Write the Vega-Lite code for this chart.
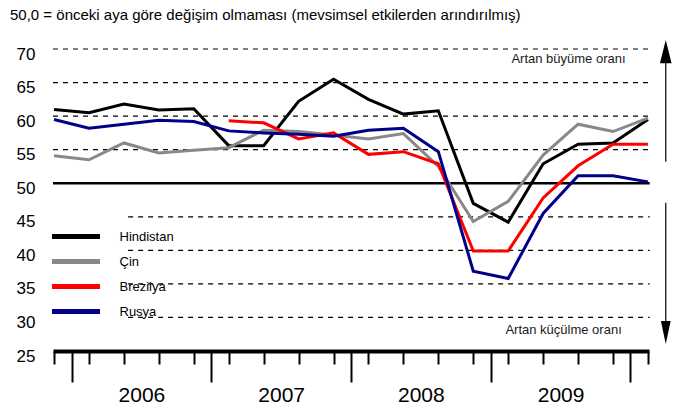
{
  "$schema": "https://vega.github.io/schema/vega-lite/v6.json",
  "width": 596,
  "height": 302,
  "autosize": {"type": "none"},
  "padding": {"left": 53, "top": 49, "right": 35, "bottom": 54},
  "background": "white",
  "config": {"view": {"stroke": null}, "font": "Liberation Sans"},
  "title": {
    "text": "50,0 = önceki aya göre değişim olmaması (mevsimsel etkilerden arındırılmış)",
    "anchor": "start",
    "frame": "group",
    "dx": -43,
    "offset": 17,
    "font": "Liberation Sans",
    "fontSize": 15,
    "fontWeight": "normal",
    "color": "black"
  },
  "datasets": {
    "series": [
      {"t": 0, "series": "Hindistan", "value": 61.0},
      {"t": 1, "series": "Hindistan", "value": 60.5},
      {"t": 2, "series": "Hindistan", "value": 61.8},
      {"t": 3, "series": "Hindistan", "value": 60.9},
      {"t": 4, "series": "Hindistan", "value": 61.1},
      {"t": 5, "series": "Hindistan", "value": 55.6},
      {"t": 6, "series": "Hindistan", "value": 55.6},
      {"t": 7, "series": "Hindistan", "value": 62.2},
      {"t": 8, "series": "Hindistan", "value": 65.5},
      {"t": 9, "series": "Hindistan", "value": 62.5},
      {"t": 10, "series": "Hindistan", "value": 60.3},
      {"t": 11, "series": "Hindistan", "value": 60.8},
      {"t": 12, "series": "Hindistan", "value": 47.0},
      {"t": 13, "series": "Hindistan", "value": 44.2},
      {"t": 14, "series": "Hindistan", "value": 52.9},
      {"t": 15, "series": "Hindistan", "value": 55.8},
      {"t": 16, "series": "Hindistan", "value": 56.0},
      {"t": 17, "series": "Hindistan", "value": 59.5},
      {"t": 0, "series": "Çin", "value": 54.1},
      {"t": 1, "series": "Çin", "value": 53.5},
      {"t": 2, "series": "Çin", "value": 56.0},
      {"t": 3, "series": "Çin", "value": 54.5},
      {"t": 4, "series": "Çin", "value": 54.9},
      {"t": 5, "series": "Çin", "value": 55.3},
      {"t": 6, "series": "Çin", "value": 57.9},
      {"t": 7, "series": "Çin", "value": 57.7},
      {"t": 8, "series": "Çin", "value": 57.2},
      {"t": 9, "series": "Çin", "value": 56.6},
      {"t": 10, "series": "Çin", "value": 57.4},
      {"t": 11, "series": "Çin", "value": 52.5},
      {"t": 12, "series": "Çin", "value": 44.3},
      {"t": 13, "series": "Çin", "value": 47.3},
      {"t": 14, "series": "Çin", "value": 54.2},
      {"t": 15, "series": "Çin", "value": 58.8},
      {"t": 16, "series": "Çin", "value": 57.7},
      {"t": 17, "series": "Çin", "value": 59.7},
      {"t": 5, "series": "Brezilya", "value": 59.3},
      {"t": 6, "series": "Brezilya", "value": 59.0},
      {"t": 7, "series": "Brezilya", "value": 56.6},
      {"t": 8, "series": "Brezilya", "value": 57.5},
      {"t": 9, "series": "Brezilya", "value": 54.3},
      {"t": 10, "series": "Brezilya", "value": 54.7},
      {"t": 11, "series": "Brezilya", "value": 52.9},
      {"t": 12, "series": "Brezilya", "value": 39.9},
      {"t": 13, "series": "Brezilya", "value": 39.9},
      {"t": 14, "series": "Brezilya", "value": 47.8},
      {"t": 15, "series": "Brezilya", "value": 52.6},
      {"t": 16, "series": "Brezilya", "value": 55.8},
      {"t": 17, "series": "Brezilya", "value": 55.8},
      {"t": 0, "series": "Rusya", "value": 59.5},
      {"t": 1, "series": "Rusya", "value": 58.2},
      {"t": 2, "series": "Rusya", "value": 58.8},
      {"t": 3, "series": "Rusya", "value": 59.4},
      {"t": 4, "series": "Rusya", "value": 59.2},
      {"t": 5, "series": "Rusya", "value": 57.8},
      {"t": 6, "series": "Rusya", "value": 57.5},
      {"t": 7, "series": "Rusya", "value": 57.3},
      {"t": 8, "series": "Rusya", "value": 57.0},
      {"t": 9, "series": "Rusya", "value": 57.9},
      {"t": 10, "series": "Rusya", "value": 58.2},
      {"t": 11, "series": "Rusya", "value": 54.7},
      {"t": 12, "series": "Rusya", "value": 36.9},
      {"t": 13, "series": "Rusya", "value": 35.8},
      {"t": 14, "series": "Rusya", "value": 45.5},
      {"t": 15, "series": "Rusya", "value": 51.1},
      {"t": 16, "series": "Rusya", "value": 51.1},
      {"t": 17, "series": "Rusya", "value": 50.2}
    ],
    "grid": [
      {"v": 70, "from": -0.03, "to": 17.05},
      {"v": 65, "from": -0.03, "to": 17.05},
      {"v": 60, "from": -0.03, "to": 17.05},
      {"v": 55, "from": -0.03, "to": 17.05},
      {"v": 45, "from": 2.12, "to": 17.05},
      {"v": 40, "from": 2.12, "to": 17.05},
      {"v": 35, "from": 2.12, "to": 17.05},
      {"v": 30, "from": 2.12, "to": 17.05}
    ],
    "base": [{"v": 50, "from": -0.03, "to": 17.05}],
    "notes": [
      {"t": 16.36, "v": 68.5, "label": "Artan büyüme oranı"},
      {"t": 16.25, "v": 28.1, "label": "Artan küçülme oranı"}
    ],
    "arrows": [
      {"t": 17.51, "from": 53.2, "to": 69.5},
      {"t": 17.51, "from": 47.1, "to": 28.0}
    ],
    "heads": [
      {"t": 17.51, "v": 69.6, "dir": "up"},
      {"t": 17.51, "v": 27.76, "dir": "down"}
    ]
  },
  "layer": [
    {
      "data": {"name": "grid"},
      "mark": {"type": "rule", "color": "black", "strokeWidth": 1.2, "strokeDash": [5, 5]},
      "encoding": {
        "x": {"field": "from", "type": "quantitative", "scale": {"domain": [-0.03, 17.03], "nice": false, "zero": false}},
        "x2": {"field": "to"},
        "y": {"field": "v", "type": "quantitative", "scale": {"domain": [25, 70], "nice": false, "zero": false}}
      }
    },
    {
      "data": {"name": "base"},
      "mark": {"type": "rule", "color": "black", "strokeWidth": 2.5},
      "encoding": {
        "x": {"field": "from", "type": "quantitative", "scale": {"domain": [-0.03, 17.03], "nice": false, "zero": false}},
        "x2": {"field": "to"},
        "y": {"field": "v", "type": "quantitative", "scale": {"domain": [25, 70], "nice": false, "zero": false}}
      }
    },
    {
      "data": {"name": "series"},
      "mark": {"type": "line", "strokeWidth": 3, "strokeJoin": "miter"},
      "encoding": {
        "x": {
          "field": "t", "type": "quantitative",
          "scale": {"domain": [-0.03, 17.03], "nice": false, "zero": false},
          "axis": {
            "values": [0, 0.5, 1, 2, 2.5, 3, 4, 4.5, 5, 6, 6.5, 7, 8, 8.5, 9, 10, 10.5, 11, 12, 12.5, 13, 14, 14.5, 15, 16, 16.5, 17],
            "tickCount": 60,
            "title": null, "grid": false,
            "domain": true, "domainColor": "black", "domainWidth": 4,
            "ticks": true, "tickColor": "black", "tickWidth": 2,
            "tickSize": {"condition": {"test": "datum.value % 1 != 0", "value": 31}, "value": 13},
            "tickOpacity": {"condition": {"test": "datum.value % 4 == 2.5", "value": 0}, "value": 1},
            "labelExpr": "datum.value == 2.5 ? '2006' : datum.value == 6.5 ? '2007' : datum.value == 10.5 ? '2008' : datum.value == 14.5 ? '2009' : ''",
            "labelFont": "Liberation Sans", "labelFontSize": 21, "labelColor": "black",
            "labelPadding": 2, "labelOverlap": false, "labelFlush": false, "labelBound": false
          }
        },
        "y": {
          "field": "value", "type": "quantitative",
          "scale": {"domain": [25, 70], "nice": false, "zero": false},
          "axis": {
            "values": [25, 30, 35, 40, 45, 50, 55, 60, 65, 70],
            "tickCount": 20,
            "title": null, "grid": false, "domain": false, "ticks": false,
            "labelFont": "Liberation Sans", "labelFontSize": 17, "labelColor": "black",
            "labelPadding": 18, "labelOffset": 5, "labelOverlap": false, "labelFlush": false, "labelBound": false
          }
        },
        "color": {
          "field": "series", "type": "nominal",
          "scale": {"domain": ["Hindistan", "Çin", "Brezilya", "Rusya"], "range": ["#000000", "#888888", "#ff0000", "#000088"]},
          "legend": {
            "orient": "none", "legendX": 14.5, "legendY": 179, "title": null, "padding": 0,
            "symbolType": "M-4,0H4", "symbolSize": 144, "symbolStrokeWidth": 5,
            "labelFont": "Liberation Sans", "labelFontSize": 13, "labelColor": "black",
            "labelOffset": 35, "rowPadding": 4
          }
        }
      }
    },
    {
      "data": {"name": "notes"},
      "mark": {"type": "text", "align": "right", "baseline": "middle", "font": "Liberation Sans", "fontSize": 13, "color": "#1a1a1a"},
      "encoding": {
        "x": {"field": "t", "type": "quantitative", "scale": {"domain": [-0.03, 17.03], "nice": false, "zero": false}},
        "y": {"field": "v", "type": "quantitative", "scale": {"domain": [25, 70], "nice": false, "zero": false}},
        "text": {"field": "label"}
      }
    },
    {
      "data": {"name": "arrows"},
      "mark": {"type": "rule", "color": "black", "strokeWidth": 1.2},
      "encoding": {
        "x": {"field": "t", "type": "quantitative", "scale": {"domain": [-0.03, 17.03], "nice": false, "zero": false}},
        "y": {"field": "from", "type": "quantitative", "scale": {"domain": [25, 70], "nice": false, "zero": false}},
        "y2": {"field": "to"}
      }
    },
    {
      "data": {"name": "heads"},
      "mark": {"type": "point", "filled": true, "color": "black", "opacity": 1, "size": 538},
      "encoding": {
        "x": {"field": "t", "type": "quantitative", "scale": {"domain": [-0.03, 17.03], "nice": false, "zero": false}},
        "y": {"field": "v", "type": "quantitative", "scale": {"domain": [25, 70], "nice": false, "zero": false}},
        "shape": {"field": "dir", "type": "nominal", "scale": {"domain": ["up", "down"], "range": ["M0,-1L0.5,1L-0.5,1Z", "M0,1L0.42,-1L-0.42,-1Z"]}, "legend": null}
      }
    }
  ]
}
